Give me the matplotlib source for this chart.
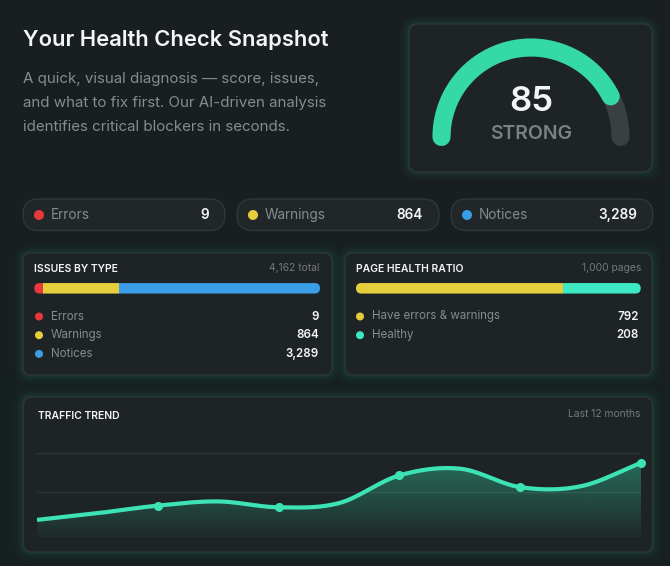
import numpy as np
import matplotlib
matplotlib.use("Agg")
import matplotlib.pyplot as plt
from matplotlib.patches import FancyBboxPatch, Circle
from matplotlib.colors import LinearSegmentedColormap, to_rgb

plt.rcParams["font.family"] = ["Inter", "DejaVu Sans"]

# ---- data ----
score = 85
score_max = 100
score_label = "STRONG"

issue_names = ["Errors", "Warnings", "Notices"]
issue_counts = [9, 864, 3289]
issue_total = "4,162 total"
# bar shares as drawn in the picture (percent of bar length)
issue_bar_share = [3.2, 26.3, 70.5]

page_names = ["Have errors & warnings", "Healthy"]
page_counts = [792, 208]
page_total = "1,000 pages"
page_bar_share = [72.6, 27.4]

# monthly traffic index, markers on every second month
traffic = [20, 28, 37, 42, 35, 40, 73, 81, 59, 60, 88]
traffic_grid = [0, 53, 100]

# ---- colours ----
BG_TOP = "#1a1e21"
BG_BOT = "#172120"
CARD = "#1e2426"
PILL = "#212729"
TEAL = "#34d9a5"
LINE = "#3de3b4"
RED = "#e5393c"
YELLOW = "#e6cd3b"
BLUE = "#3a9de6"
HEALTHY = "#3ee8c2"
GREY = "#868b8e"
WHITE = "#f2f4f5"

fig = plt.figure(figsize=(6.7, 5.66), dpi=100)
ax = fig.add_axes([0, 0, 1, 1])
ax.set_xlim(0, 670)
ax.set_ylim(566, 0)
ax.axis("off")

# background gradient
bg = LinearSegmentedColormap.from_list("bg", [BG_TOP, BG_BOT])
ax.imshow(np.linspace(0, 1, 256)[:, None], cmap=bg, aspect="auto",
          extent=(0, 670, 566, 0), zorder=0)


def card(x0, y0, x1, y1, r=8, face=CARD, edge="#2b3835", glow=True):
    if glow:
        for i, a in enumerate([0.05, 0.035, 0.025, 0.015]):
            p = 2 + 2.5 * i
            ax.add_patch(FancyBboxPatch((x0 - p, y0 - p), x1 - x0 + 2 * p, y1 - y0 + 2 * p,
                                        boxstyle=f"round,pad=0,rounding_size={r + p}",
                                        fc=TEAL, ec="none", alpha=a, zorder=1))
    ax.add_patch(FancyBboxPatch((x0, y0), x1 - x0, y1 - y0,
                                boxstyle=f"round,pad=0,rounding_size={r}",
                                fc=face, ec=edge, lw=1, zorder=2))


# ---- header text ----
ax.text(23, 46.5, "Your Health Check Snapshot", color=WHITE, fontsize=15.8,
        fontweight="semibold", va="baseline", zorder=5)
subtitle = ["A quick, visual diagnosis \u2014 score, issues,",
            "and what to fix first. Our AI-driven analysis",
            "identifies critical blockers in seconds."]
for i, line in enumerate(subtitle):
    ax.text(23, 83 + 24 * i, line, color="#868b8f", fontsize=10.9,
            va="baseline", zorder=5)

# ---- gauge ----
card(409, 24, 652, 172, r=9)
cx, cy, rad = 531, 137, 89.5
th = np.linspace(np.pi, 0, 200)
ax.plot(cx + rad * np.cos(th), cy - rad * np.sin(th), color="#3a3f42",
        lw=13, solid_capstyle="round", zorder=3)
th = np.linspace(np.pi, np.pi * (1 - score / score_max), 200)
ax.plot(cx + rad * np.cos(th), cy - rad * np.sin(th), color=TEAL,
        lw=13, solid_capstyle="round", zorder=4)
ax.text(cx, 102, str(score), color=WHITE, fontsize=25, fontweight="semibold",
        ha="center", va="center", zorder=5)
ax.text(cx, 134, score_label, color="#7b8083", fontsize=14, fontweight="semibold",
        ha="center", va="center", zorder=5)

# ---- pills ----
pill_colors = [RED, YELLOW, BLUE]
for i, (name, cnt, col) in enumerate(zip(issue_names, issue_counts, pill_colors)):
    x0 = 23 + 214 * i
    ax.add_patch(FancyBboxPatch((x0, 199), 202, 31.5,
                                boxstyle="round,pad=0,rounding_size=15.7",
                                fc=PILL, ec="#30373a", lw=1, zorder=2))
    ax.add_patch(Circle((x0 + 16, 215), 4.3, color=col, zorder=3))
    ax.text(x0 + 28, 215, name, color=GREY, fontsize=9.8, va="center", zorder=4)
    ax.text(x0 + 186, 215, f"{cnt:,}", color=WHITE, fontsize=9.8,
            fontweight="semibold", ha="right", va="center", zorder=4)


def stacked_bar(x0, x1, yc, shares, colors):
    h = 10.5
    bax = fig.add_axes([x0 / 670, (566 - yc - h / 2) / 566, (x1 - x0) / 670, h / 566])
    bax.set_xlim(0, 100)
    bax.set_ylim(0, 1)
    bax.axis("off")
    # pill outline in the bar axes' units: radius in x units, y squashed by mutation_aspect
    rx = (h / 2) / (x1 - x0) * 100
    clip = FancyBboxPatch((0, 0), 100, 1,
                          boxstyle=f"round,pad=0,rounding_size={rx}",
                          mutation_aspect=0.5 / rx,
                          transform=bax.transData)
    left = np.cumsum([0] + list(shares[:-1]))
    bars = bax.barh([0.5] * len(shares), shares, height=1, left=left, color=colors)
    for b in bars:
        b.set_clip_path(clip)


def legend_rows(xdot, xval, names, counts, colors):
    for j, (n, c, col) in enumerate(zip(names, counts, colors)):
        y = 316.5 + 18.7 * j
        ax.add_patch(Circle((xdot, y), 3.3, color=col, zorder=3))
        ax.text(xdot + 12, y, n, color=GREY, fontsize=8.3, va="center", zorder=4)
        ax.text(xval, y, f"{c:,}", color=WHITE, fontsize=8.3, fontweight="semibold",
                ha="right", va="center", zorder=4)


# ---- issues by type ----
card(23, 253, 332, 375)
ax.text(34.5, 269, "ISSUES BY TYPE", color=WHITE, fontsize=7.5, fontweight="semibold",
        va="center", zorder=4)
ax.text(319.5, 268, issue_total, color="#75797c", fontsize=7.4, ha="right",
        va="center", zorder=4)
stacked_bar(34.3, 320, 288.3, issue_bar_share, [RED, YELLOW, BLUE])
legend_rows(39, 318.7, issue_names, issue_counts, [RED, YELLOW, BLUE])

# ---- page health ratio ----
card(345, 253, 652, 375)
ax.text(356, 269, "PAGE HEALTH RATIO", color=WHITE, fontsize=7.5, fontweight="semibold",
        va="center", zorder=4)
ax.text(641, 268, page_total, color="#75797c", fontsize=7.4, ha="right",
        va="center", zorder=4)
stacked_bar(356, 640.7, 288.3, page_bar_share, [YELLOW, HEALTHY])
legend_rows(360, 639, page_names, page_counts, [YELLOW, HEALTHY])

# ---- traffic trend ----
card(23.5, 397, 652.5, 552)
ax.text(37.5, 416, "TRAFFIC TREND", color=WHITE, fontsize=7.5, fontweight="semibold",
        va="center", zorder=4)
ax.text(640, 414, "Last 12 months", color="#75797c", fontsize=7.4, ha="right",
        va="center", zorder=4)

tx0, tx1, ybot, ytop = 37, 641, 536.7, 452.7
tax = fig.add_axes([tx0 / 670, (566 - ybot) / 566, (tx1 - tx0) / 670, (ybot - ytop) / 566])
tax.set_xlim(0, len(traffic) - 1)
tax.set_ylim(0, 100)
tax.axis("off")
tax.patch.set_alpha(0)

for g in traffic_grid:
    tax.axhline(g, color="#2e3537", lw=1, zorder=1)

# catmull-rom smoothing through monthly values
y = np.asarray(traffic, float)
n = len(y)
m = np.empty(n)
m[1:-1] = (y[2:] - y[:-2]) / 2
m[0] = y[1] - y[0]
m[-1] = y[-1] - y[-2]
xs, ys = [], []
for i in range(n - 1):
    t = np.linspace(0, 1, 30, endpoint=(i == n - 2))
    h00 = 2 * t**3 - 3 * t**2 + 1
    h10 = t**3 - 2 * t**2 + t
    h01 = -2 * t**3 + 3 * t**2
    h11 = t**3 - t**2
    xs.append(i + t)
    ys.append(h00 * y[i] + h10 * m[i] + h01 * y[i + 1] + h11 * m[i + 1])
xs = np.concatenate(xs)
ys = np.concatenate(ys)

fill = tax.fill_between(xs, ys, 0, color="none", lw=0, zorder=2)
r, g_, b = to_rgb(TEAL)
grad = np.zeros((256, 1, 4))
grad[:, 0, 0], grad[:, 0, 1], grad[:, 0, 2] = r, g_, b
grad[:, 0, 3] = np.linspace(0.45, 0.03, 256)
img = tax.imshow(grad, aspect="auto", extent=(0, n - 1, 0, 100),
                 origin="upper", zorder=2)
img.set_clip_path(fill.get_paths()[0], transform=tax.transData)

tax.plot(xs, ys, color=LINE, lw=3, solid_capstyle="butt", zorder=3, clip_on=False)
idx = np.arange(2, n, 2)
tax.plot(idx, y[idx], "o", color=LINE, ms=5.5, zorder=4, clip_on=False)

fig.savefig("out.png", dpi=100, facecolor=BG_TOP)
